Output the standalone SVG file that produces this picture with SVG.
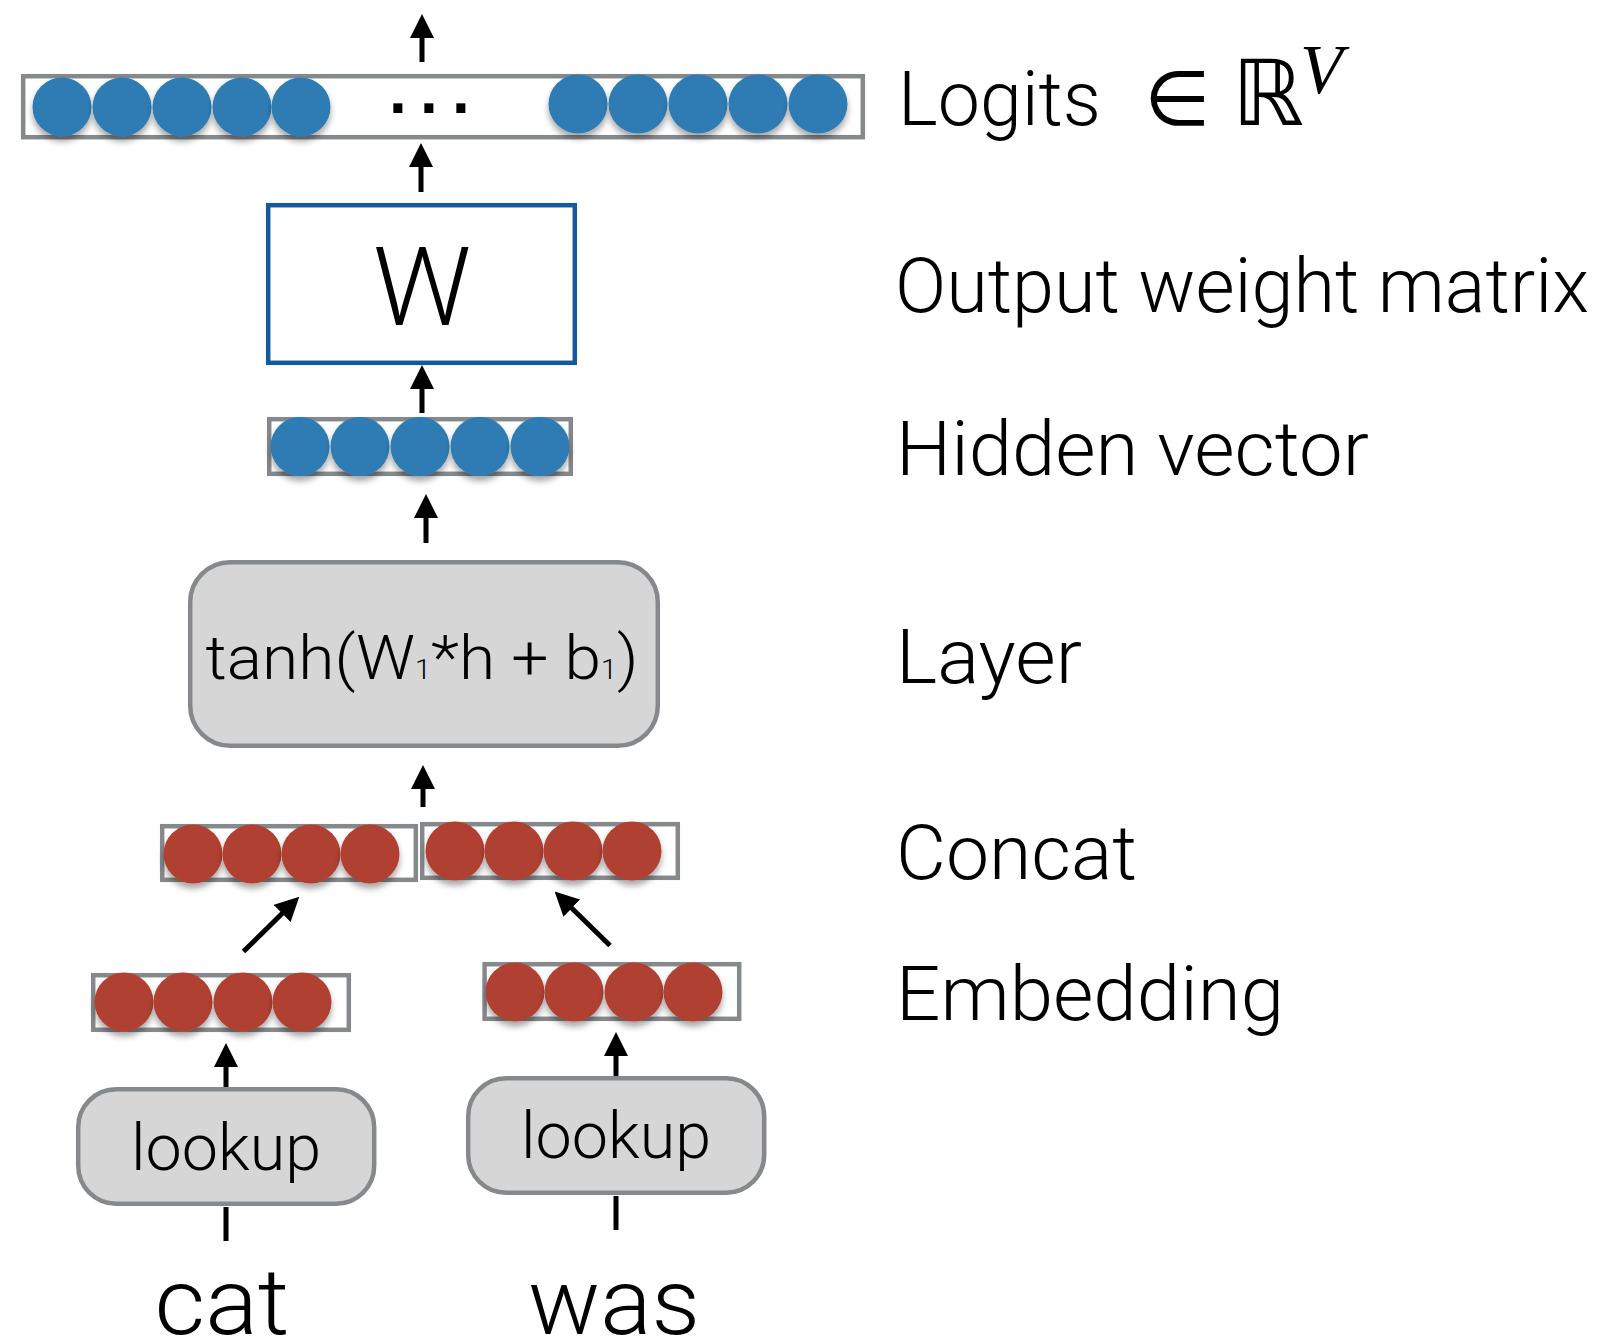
<svg xmlns="http://www.w3.org/2000/svg" width="1621" height="1340" viewBox="0 0 1621 1340">
<style>
  .vec { fill: #ffffff; stroke: #86898c; stroke-width: 4.5; }
  .blue { fill: #2e7cb3; filter: url(#shadow); }
  .red { fill: #b04130; filter: url(#shadow); }
  .op { fill: #d6d6d6; stroke: #86898c; stroke-width: 4.5; }
  .wbox { fill: #ffffff; stroke: #135a9a; stroke-width: 4.5; }
  .txt { font-family: Roboto, "Liberation Sans", Arial, sans-serif; font-weight: 300; fill: #000; }
  .dots { font-family: "Liberation Sans", Arial, sans-serif; font-weight: 700; font-size: 64px; fill: #000; }
  .math { font-family: "DejaVu Sans", sans-serif; fill: #000; }
  .lbl { font-size: 76px; }
  .conn { stroke: #000; stroke-width: 5; fill: none; }
  .arrow { marker-end: url(#head); }
</style>
<defs>
  <marker id="head" viewBox="0 0 24 24" refX="1" refY="12" markerWidth="24" markerHeight="24" markerUnits="userSpaceOnUse" orient="auto">
    <path d="M0,0 L24,12 L0,24 Z" fill="#000"/>
  </marker>
  <filter id="shadow" x="-30%" y="-30%" width="160%" height="170%">
    <feDropShadow dx="0" dy="5" stdDeviation="3" flood-color="#000" flood-opacity="0.35"/>
  </filter>
</defs>
<rect width="1621" height="1340" fill="#ffffff"/>

<g id="connectors">
  <line class="conn arrow" x1="422" y1="62" x2="422" y2="37"/>
  <line class="conn arrow" x1="421" y1="192" x2="421" y2="166"/>
  <line class="conn arrow" x1="422" y1="413" x2="422" y2="388"/>
  <line class="conn arrow" x1="426" y1="543" x2="426" y2="517"/>
  <line class="conn arrow" x1="423" y1="807" x2="423" y2="788"/>
  <line class="conn arrow" x1="243.5" y1="951.5" x2="282.9" y2="912.8"/>
  <line class="conn arrow" x1="610" y1="945.5" x2="571.1" y2="907.5"/>
  <line class="conn arrow" x1="226" y1="1087" x2="226" y2="1066"/>
  <line class="conn arrow" x1="616" y1="1076" x2="616" y2="1055"/>
  <line class="conn" x1="226" y1="1207" x2="226" y2="1241"/>
  <line class="conn" x1="616" y1="1196" x2="616" y2="1230"/>
</g>

<g id="node-logits">
  <rect class="vec" x="23.2" y="76.2" width="839.6" height="61"/>
  <circle class="blue" cx="62" cy="107" r="29.5"/>
  <circle class="blue" cx="122" cy="107" r="29.5"/>
  <circle class="blue" cx="182" cy="107" r="29.5"/>
  <circle class="blue" cx="242" cy="107" r="29.5"/>
  <circle class="blue" cx="301" cy="107" r="29.5"/>
  <text class="dots" x="389 420 452" y="113">...</text>
  <circle class="blue" cx="578" cy="104" r="29.5"/>
  <circle class="blue" cx="638" cy="104" r="29.5"/>
  <circle class="blue" cx="698" cy="104" r="29.5"/>
  <circle class="blue" cx="758" cy="104" r="29.5"/>
  <circle class="blue" cx="818" cy="104" r="29.5"/>
</g>

<g id="node-W">
  <rect class="wbox" x="268.2" y="205.2" width="306.6" height="157.6"/>
  <text class="txt" x="422" y="325" font-size="110" text-anchor="middle">W</text>
</g>

<g id="node-hidden">
  <rect class="vec" x="269.2" y="419.2" width="301.6" height="54.6"/>
  <circle class="blue" cx="300" cy="446.5" r="29.5"/>
  <circle class="blue" cx="360" cy="446.5" r="29.5"/>
  <circle class="blue" cx="420" cy="446.5" r="29.5"/>
  <circle class="blue" cx="480" cy="446.5" r="29.5"/>
  <circle class="blue" cx="540" cy="446.5" r="29.5"/>
</g>

<g id="node-layer">
  <rect class="op" x="190.2" y="562.2" width="467.6" height="183.6" rx="40" ry="40"/>
  <text class="txt" x="422" y="679" font-size="62" text-anchor="middle" textLength="433" lengthAdjust="spacingAndGlyphs">tanh(W<tspan font-size="27">1</tspan>*h + b<tspan font-size="27">1</tspan>)</text>
</g>

<g id="node-concat-left">
  <rect class="vec" x="162.2" y="826.2" width="253.6" height="53.6"/>
  <circle class="red" cx="193" cy="854" r="29.5"/>
  <circle class="red" cx="252" cy="854" r="29.5"/>
  <circle class="red" cx="311" cy="854" r="29.5"/>
  <circle class="red" cx="370" cy="854" r="29.5"/>
</g>

<g id="node-concat-right">
  <rect class="vec" x="422.2" y="824.2" width="255.6" height="53.6"/>
  <circle class="red" cx="455" cy="851" r="29.5"/>
  <circle class="red" cx="514" cy="851" r="29.5"/>
  <circle class="red" cx="573" cy="851" r="29.5"/>
  <circle class="red" cx="632" cy="851" r="29.5"/>
</g>

<g id="node-emb-cat">
  <rect class="vec" x="93.2" y="975.2" width="255.6" height="54.6"/>
  <circle class="red" cx="124" cy="1002" r="29.5"/>
  <circle class="red" cx="183" cy="1002" r="29.5"/>
  <circle class="red" cx="243" cy="1002" r="29.5"/>
  <circle class="red" cx="302" cy="1002" r="29.5"/>
</g>

<g id="node-emb-was">
  <rect class="vec" x="484.6" y="964.2" width="254.6" height="54.6"/>
  <circle class="red" cx="515" cy="992" r="29.5"/>
  <circle class="red" cx="574" cy="992" r="29.5"/>
  <circle class="red" cx="634" cy="992" r="29.5"/>
  <circle class="red" cx="693" cy="992" r="29.5"/>
</g>

<g id="node-lookup-cat">
  <rect class="op" x="78.2" y="1089.2" width="296" height="114.6" rx="38" ry="38"/>
  <text class="txt" x="226" y="1170" font-size="64" text-anchor="middle" textLength="190" lengthAdjust="spacingAndGlyphs">lookup</text>
</g>

<g id="node-lookup-was">
  <rect class="op" x="468.2" y="1078.2" width="296" height="114.6" rx="38" ry="38"/>
  <text class="txt" x="616" y="1158" font-size="64" text-anchor="middle" textLength="190" lengthAdjust="spacingAndGlyphs">lookup</text>
</g>

<g id="node-word-cat">
  <text class="txt" x="222" y="1334" font-size="92" text-anchor="middle" textLength="135" lengthAdjust="spacingAndGlyphs">cat</text>
</g>

<g id="node-word-was">
  <text class="txt" x="614" y="1334" font-size="92" text-anchor="middle" textLength="172" lengthAdjust="spacingAndGlyphs">was</text>
</g>

<g id="labels">
  <text class="txt lbl" x="898" y="125" textLength="203" lengthAdjust="spacingAndGlyphs">Logits</text>
  <text class="math" x="1177" y="125" font-size="76" text-anchor="middle">∈</text>
  <text class="math" x="1268" y="125" font-size="91" text-anchor="middle">ℝ</text>
  <text x="1300" y="93" font-family="Liberation Serif, Times New Roman, serif" font-style="italic" font-size="70" fill="#000">V</text>
  <text class="txt lbl" x="895" y="312" textLength="694" lengthAdjust="spacingAndGlyphs">Output weight matrix</text>
  <text class="txt lbl" x="896" y="475" textLength="473" lengthAdjust="spacingAndGlyphs">Hidden vector</text>
  <text class="txt lbl" x="896" y="683" textLength="186" lengthAdjust="spacingAndGlyphs">Layer</text>
  <text class="txt lbl" x="896" y="879" textLength="241" lengthAdjust="spacingAndGlyphs">Concat</text>
  <text class="txt lbl" x="896" y="1020" textLength="388" lengthAdjust="spacingAndGlyphs">Embedding</text>
</g>
</svg>
